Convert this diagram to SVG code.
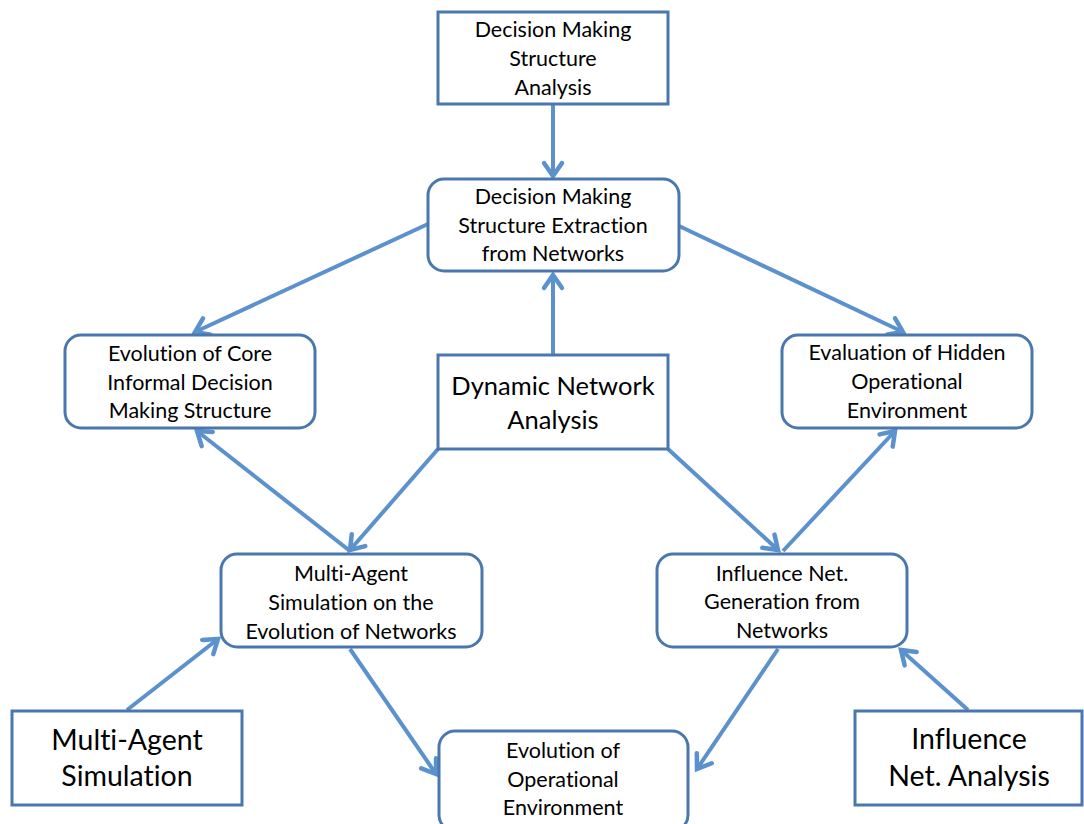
<svg xmlns="http://www.w3.org/2000/svg" width="1084" height="824" viewBox="0 0 1084 824">
  <style>
    .box { fill: #ffffff; stroke: #4a78ae; stroke-width: 3; }
    .lbl { font-family: Lato, "Open Sans", "Liberation Sans", sans-serif; font-size: 21.5px; fill: #000000; text-anchor: middle; font-variant-ligatures: none; font-feature-settings: "liga" 0, "dlig" 0; }
    .big { font-size: 25.5px; }
    .huge { font-size: 28.5px; }
    .edge { fill: none; stroke: #5b91cc; stroke-width: 4; marker-end: url(#arrow); }
  </style>
  <defs>
    <marker id="arrow" markerUnits="userSpaceOnUse" markerWidth="1" markerHeight="1" refX="0" refY="0" orient="auto" overflow="visible">
      <path d="M-13,-9 L0,0 L-13,9" fill="none" stroke="#5b91cc" stroke-width="4.5" stroke-linecap="round" stroke-linejoin="miter"/>
    </marker>
  </defs>
  <rect width="1084" height="824" fill="#ffffff"/>

  <g id="connectors">
    <line class="edge" x1="553" y1="105" x2="553" y2="176"/>
    <line class="edge" x1="428" y1="224" x2="195" y2="332"/>
    <line class="edge" x1="679" y1="226" x2="903" y2="332"/>
    <line class="edge" x1="553" y1="354" x2="553" y2="275"/>
    <line class="edge" x1="350" y1="551" x2="197" y2="431"/>
    <line class="edge" x1="438" y1="449" x2="350" y2="550"/>
    <line class="edge" x1="668" y1="449" x2="778" y2="550"/>
    <line class="edge" x1="783" y1="551" x2="895" y2="431"/>
    <line class="edge" x1="127" y1="710" x2="218" y2="639"/>
    <line class="edge" x1="350" y1="649" x2="436" y2="774"/>
    <line class="edge" x1="778" y1="649" x2="697" y2="769"/>
    <line class="edge" x1="968" y1="710" x2="901" y2="650"/>
  </g>

  <g id="dm-structure-analysis">
    <rect class="box" x="438" y="12" width="230" height="92"/>
    <text class="lbl" x="553" y="37">Decision Making</text>
    <text class="lbl" x="553" y="66">Structure</text>
    <text class="lbl" x="553" y="95">Analysis</text>
  </g>

  <g id="dm-structure-extraction">
    <rect class="box" x="428" y="179" width="251" height="92" rx="16"/>
    <text class="lbl" x="553" y="204">Decision Making</text>
    <text class="lbl" x="553" y="233">Structure Extraction</text>
    <text class="lbl" x="553" y="261">from Networks</text>
  </g>

  <g id="core-informal-evolution">
    <rect class="box" x="65" y="335" width="250" height="93" rx="16"/>
    <text class="lbl" x="190" y="361">Evolution of Core</text>
    <text class="lbl" x="190" y="390">Informal Decision</text>
    <text class="lbl" x="190" y="418">Making Structure</text>
  </g>

  <g id="hidden-environment-evaluation">
    <rect class="box" x="782" y="335" width="250" height="93" rx="16"/>
    <text class="lbl" x="907" y="360">Evaluation of Hidden</text>
    <text class="lbl" x="907" y="389">Operational</text>
    <text class="lbl" x="907" y="418">Environment</text>
  </g>

  <g id="dynamic-network-analysis">
    <rect class="box" x="438" y="355" width="230" height="94"/>
    <text class="lbl big" x="553" y="395">Dynamic Network</text>
    <text class="lbl big" x="553" y="429">Analysis</text>
  </g>

  <g id="mas-network-evolution">
    <rect class="box" x="221" y="554" width="261" height="93" rx="16"/>
    <text class="lbl" x="351" y="581">Multi-Agent</text>
    <text class="lbl" x="351" y="610">Simulation on the</text>
    <text class="lbl" x="351" y="639">Evolution of Networks</text>
  </g>

  <g id="influence-net-generation">
    <rect class="box" x="657" y="554" width="250" height="93" rx="16"/>
    <text class="lbl" x="782" y="581">Influence Net.</text>
    <text class="lbl" x="782" y="609">Generation from</text>
    <text class="lbl" x="782" y="638">Networks</text>
  </g>

  <g id="multi-agent-simulation">
    <rect class="box" x="12" y="711" width="230" height="94"/>
    <text class="lbl huge" x="127" y="750">Multi-Agent</text>
    <text class="lbl huge" x="127" y="786">Simulation</text>
  </g>

  <g id="operational-environment-evolution">
    <rect class="box" x="439" y="731" width="249" height="100" rx="16"/>
    <text class="lbl" x="563" y="758">Evolution of</text>
    <text class="lbl" x="563" y="787">Operational</text>
    <text class="lbl" x="563" y="815">Environment</text>
  </g>

  <g id="influence-net-analysis">
    <rect class="box" x="855" y="711" width="227" height="94"/>
    <text class="lbl huge" x="969" y="749">Influence</text>
    <text class="lbl huge" x="969" y="786">Net. Analysis</text>
  </g>
</svg>
